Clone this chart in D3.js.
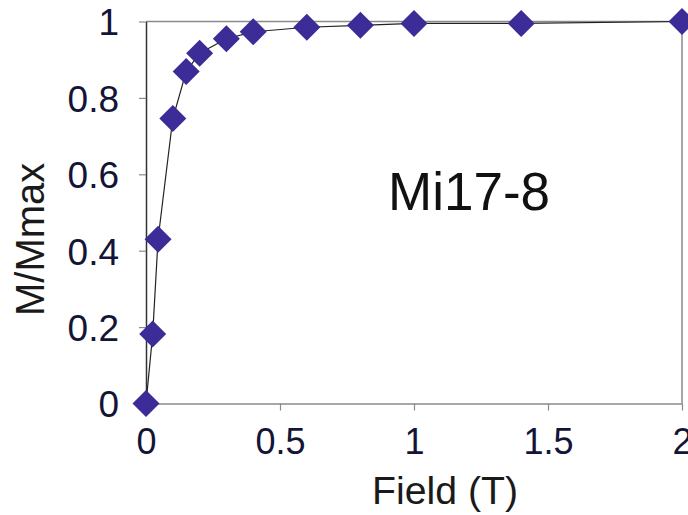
<!DOCTYPE html>
<html><head><meta charset="utf-8">
<script src="https://cdn.jsdelivr.net/npm/d3@7"></script>
<style>html,body{margin:0;padding:0;background:#fff;}svg{display:block;font-family:"Liberation Sans",Arial,sans-serif;}</style>
</head><body>
<svg id="c" width="688" height="515"></svg>
<script>
const fieldT = [0, 0.025, 0.045, 0.1, 0.15, 0.2, 0.3, 0.4, 0.6, 0.8, 1.0, 1.4, 2.0];
const mRatio = [0, 0.182, 0.43, 0.746, 0.869, 0.917, 0.955, 0.973, 0.985, 0.99, 0.995, 0.995, 1.0];
const xTicks = [0, 0.5, 1, 1.5, 2];
const yTicks = [0, 0.2, 0.4, 0.6, 0.8, 1];
const sampleLabel = "Mi17-8";
const xTitle = "Field (T)";
const yTitle = "M/Mmax";

const svg = d3.select("#c");
const x = d3.scaleLinear().domain([0, 2]).range([146, 682]);
const y = d3.scaleLinear().domain([0, 1]).range([403.5, 21.5]);
const axisCol = "#8a8a8a", textCol = "#141436", markCol = "#3b2c97";

// frame top/right
svg.append("line").attr("x1", x(0)).attr("x2", x(2)).attr("y1", y(1)).attr("y2", y(1)).attr("stroke", axisCol).attr("stroke-width", 1.5);
svg.append("line").attr("x1", x(2)).attr("x2", x(2)).attr("y1", y(1)).attr("y2", y(0)).attr("stroke", axisCol).attr("stroke-width", 1.5);

const xAxis = svg.append("g").attr("transform", `translate(0,${y(0)})`)
  .call(d3.axisBottom(x).tickValues(xTicks).tickSize(7).tickSizeOuter(0).tickFormat(d3.format("")));
xAxis.select(".domain").attr("stroke", axisCol).attr("stroke-width", 1.5);
xAxis.selectAll(".tick line").attr("stroke", axisCol).attr("stroke-width", 1.2);
xAxis.selectAll(".tick text").attr("fill", textCol).attr("font-size", 36).attr("dy", null).attr("y", 50);

const yAxis = svg.append("g").attr("transform", `translate(${x(0)},0)`)
  .call(d3.axisLeft(y).tickValues(yTicks).tickSize(7).tickSizeOuter(0).tickFormat(d3.format("")));
yAxis.select(".domain").attr("stroke", "#333").attr("stroke-width", 1.5);
yAxis.selectAll(".tick line").attr("stroke", axisCol).attr("stroke-width", 1.2);
yAxis.selectAll(".tick text").attr("fill", textCol).attr("font-size", 37).attr("x", -27).attr("dy", "0.36em");

// line
const pts = fieldT.map((f, i) => [f, mRatio[i]]);
svg.append("path").datum(pts)
  .attr("d", d3.line().x(d => x(d[0])).y(d => y(d[1])))
  .attr("fill", "none").attr("stroke", "#222").attr("stroke-width", 1.2);

// diamonds
svg.selectAll(".pt").data(pts).enter().append("path")
  .attr("transform", d => `translate(${x(d[0])},${y(d[1])})`)
  .attr("d", "M0,-13.5L13.5,0L0,13.5L-13.5,0Z")
  .attr("fill", markCol);

// titles
svg.append("text").attr("x", 372).attr("y", 504)
  .attr("font-size", 38).attr("fill", "#1a1a1a")
  .attr("textLength", 146).attr("lengthAdjust", "spacingAndGlyphs").text(xTitle);
svg.append("text").attr("transform", "translate(44,316) rotate(-90)")
  .attr("font-size", 40).attr("fill", "#1a1a1a").text(yTitle);
svg.append("text").attr("x", 388).attr("y", 210).attr("font-size", 53).attr("fill", "#111").text(sampleLabel);
</script>
</body></html>
